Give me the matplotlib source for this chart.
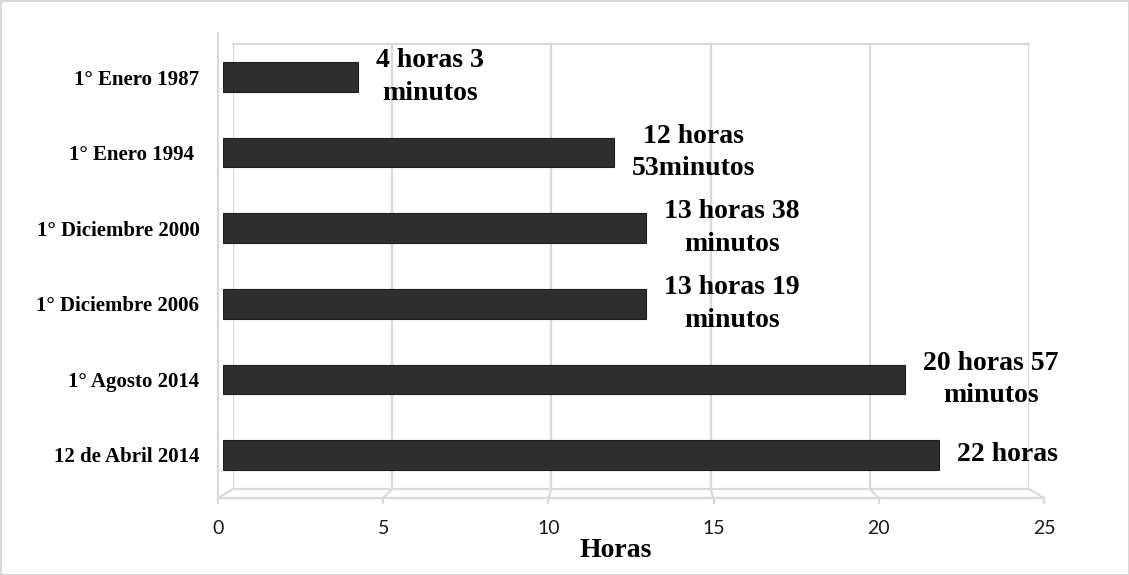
#import libraries
import matplotlib.pyplot as plt
from matplotlib.patches import ConnectionPatch
from matplotlib.font_manager import FontProperties

#data
fechas = ["1° Enero 1987", "1° Enero 1994 ", "1° Diciembre 2000", "1° Diciembre 2006",
          "1° Agosto 2014", "12 de Abril 2014"]
horas = [4.15, 12.0, 13.0, 13.0, 20.95, 22.0]
etiquetas = ["4 horas 3\nminutos", "12 horas\n53minutos", "13 horas 38\nminutos",
             "13 horas 19\nminutos", "20 horas 57\nminutos", "22 horas"]
ticks = [0, 5, 10, 15, 20, 25]

W, H = 1129, 575
gris = "#d9d9d9"
fp_valor = FontProperties(family="Liberation Serif", weight="bold", size=20)
fp_cat = FontProperties(family="Liberation Serif", weight="bold", size=15)
fp_tick = FontProperties(family="Lato", size=14)

fig = plt.figure(figsize=(W / 100, H / 100), dpi=100)
fig.patch.set_edgecolor(gris)
fig.patch.set_linewidth(2)

def caja(left, top, right, bottom):
    #pixel box -> figure fractions
    return [left / W, 1 - bottom / H, (right - left) / W, (bottom - top) / H]

#back wall with gridlines
ax_back = fig.add_axes(caja(233, 44, 1029, 489))
ax_back.set_xlim(0, 25)
ax_back.set_xticks(ticks)
ax_back.set_yticks([])
ax_back.tick_params(axis="x", length=0, labelbottom=False)
ax_back.grid(axis="x", color=gris, linewidth=1.6)
for s in ["left", "right"]:
    ax_back.spines[s].set_visible(False)
for s in ["top", "bottom"]:
    ax_back.spines[s].set_color(gris)
    ax_back.spines[s].set_linewidth(1.6)

#front axis with tick labels
ax_front = fig.add_axes(caja(218, 33, 1044, 498))
ax_front.patch.set_visible(False)
ax_front.set_xlim(0, 25)
ax_front.set_xticks(ticks)
ax_front.set_xticklabels([str(t) for t in ticks], fontproperties=fp_tick, color="#1a1a1a")
ax_front.set_yticks([])
ax_front.tick_params(axis="x", color=gris, width=1.6, length=4, pad=12)
for s in ["top", "right"]:
    ax_front.spines[s].set_visible(False)
for s in ["left", "bottom"]:
    ax_front.spines[s].set_color(gris)
    ax_front.spines[s].set_linewidth(1.6)
ax_front.set_xlabel("Horas", fontproperties=fp_valor)
ax_front.xaxis.set_label_coords(0.481, -0.085)

#floor lines between back wall and front axis
for t in ticks:
    con = ConnectionPatch(xyA=(t, 0), coordsA=ax_back.get_xaxis_transform(),
                          xyB=(t, 0), coordsB=ax_front.get_xaxis_transform(),
                          color=gris, linewidth=1.6)
    fig.add_artist(con)

#bars
ax = fig.add_axes(caja(223, 44, 1037, 489))
ax.patch.set_visible(False)
y = list(range(len(fechas)))
ax.barh(y, horas, height=0.39, color="#2e2e2e", edgecolor="#1f1f1f", linewidth=0.8)
ax.set_xlim(0, 25)
ax.set_ylim(5.45, -0.437)
ax.set_xticks([])
ax.set_yticks(y)
ax.set_yticklabels(fechas, fontproperties=fp_cat)
ax.tick_params(axis="y", length=0, pad=17)
for s in ax.spines.values():
    s.set_visible(False)

#value labels
for i in range(len(fechas)):
    ax.annotate(etiquetas[i], xy=(horas[i], i), xytext=(13, 0), textcoords="offset points",
                ha="left", va="center", multialignment="center", linespacing=1.4,
                fontproperties=fp_valor)

fig.savefig("out.png", dpi=100)
